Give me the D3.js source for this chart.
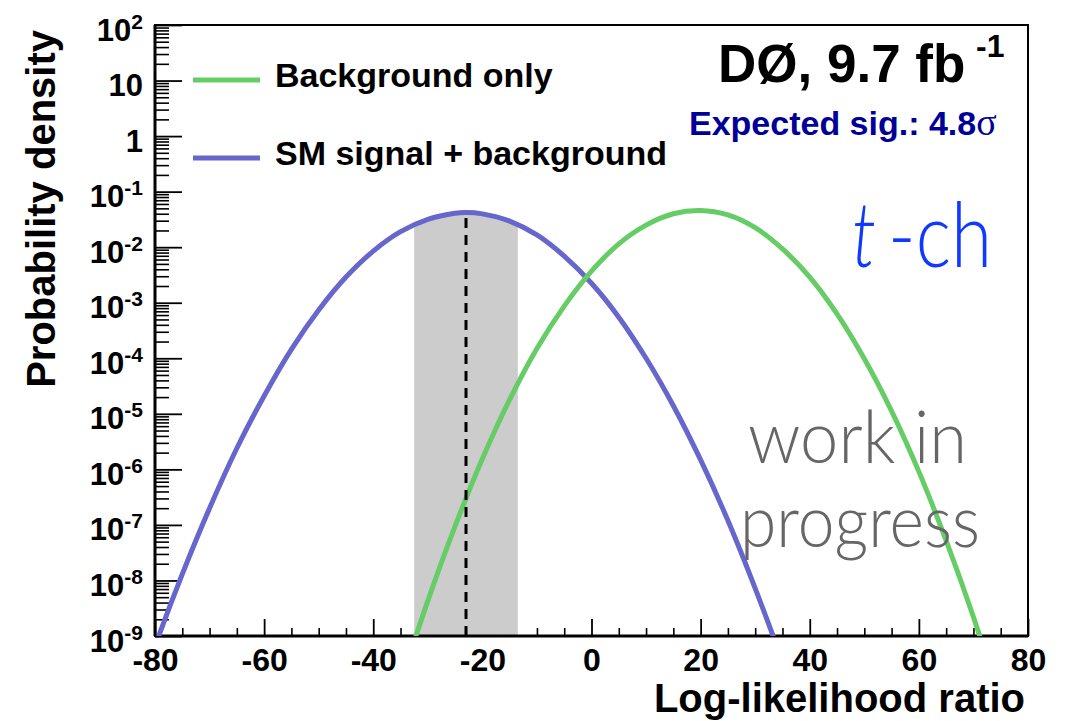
<!DOCTYPE html>
<html>
<head>
<meta charset="utf-8">
<script src="https://cdn.jsdelivr.net/npm/d3@7"></script>
<style>
  html, body { margin: 0; padding: 0; background: #fff; }
  svg { display: block; }
  .tk text { font-family: "Liberation Sans", Arial, Helvetica, sans-serif; font-weight: bold; fill: #000; }
</style>
</head>
<body>
<svg id="chart" width="1065" height="721"></svg>
<script>
// Log-likelihood ratio grid and probability densities for the two hypotheses
const llrBkg = [-35, -30, -25, -20, -15, -10, -5, 0, 5, 10, 15, 20, 25, 30, 35, 40, 45, 50, 55, 60, 65, 70, 75];
const densBkg = [1.4e-10, 4.3e-9, 9.5e-8, 1.55e-6, 1.8e-5, 1.5e-4, 8.7e-4, 3.7e-3, 1.15e-2, 2.5e-2, 4.0e-2, 4.57e-2,
                 3.8e-2, 2.24e-2, 9.3e-3, 2.9e-3, 6.3e-4, 9.8e-5, 1.12e-5, 9.1e-7, 5.2e-8, 2.2e-9, 6.6e-11];

const llrSB = [-85, -80, -75, -70, -65, -60, -55, -50, -45, -40, -35, -30, -25, -23, -20, -15, -10, -5, 0, 5, 10, 15, 20, 25, 30, 35, 40];
const densSB = [2.3e-11, 6.5e-10, 1.3e-8, 2.0e-7, 2.4e-6, 2.1e-5, 1.45e-4, 7.4e-4, 2.9e-3, 8.5e-3, 1.9e-2, 3.16e-2, 4.07e-2, 4.2e-2,
                3.98e-2, 2.95e-2, 1.66e-2, 6.9e-3, 2.24e-3, 5.5e-4, 1.0e-4, 1.4e-5, 1.48e-6, 1.2e-7, 7.2e-9, 3.4e-10, 1.2e-11];

// Expected (median) s+b outcome and its ±1 sigma band
const sbMedian = -23;
const sbBand = [-32.5, -13.5];

// Axis ticks
const xMajor = [-80, -60, -40, -20, 0, 20, 40, 60, 80];
const xMinor = d3.range(-80, 80.1, 5).filter(v => !xMajor.includes(v));
const yExponents = [2, 1, 0, -1, -2, -3, -4, -5, -6, -7, -8, -9];

const legendItems = [
  { label: "Background only", color: "#66cc66" },
  { label: "SM signal + background", color: "#6666cc" }
];

const svg = d3.select("#chart");
const L = 155, R = 1028, T = 25, B = 636;

const x = d3.scaleLinear().domain([-80, 80]).range([L, R]);
const y = d3.scaleLog().domain([1e-9, 1e2]).range([B, T]);

const bkg = llrBkg.map((v, i) => [v, densBkg[i]]);
const sb = llrSB.map((v, i) => [v, densSB[i]]);

const defs = svg.append("defs");
defs.append("clipPath").attr("id", "frameClip")
  .append("rect").attr("x", L).attr("y", T).attr("width", R - L).attr("height", B - T);
defs.append("clipPath").attr("id", "bandClip")
  .append("rect").attr("x", x(sbBand[0])).attr("y", T)
  .attr("width", x(sbBand[1]) - x(sbBand[0])).attr("height", B - T);

// Minor ticks for the y axis: 2..9 times each decade
const yMinor = [];
for (let e = -9; e < 2; e++) for (let m = 2; m <= 9; m++) yMinor.push(m * Math.pow(10, e));
const yMajor = yExponents.map(e => Math.pow(10, e));

// y axis ticks (pointing into the frame)
svg.append("g").attr("class", "tk").attr("transform", `translate(${L},0)`)
  .call(d3.axisLeft(y).tickValues(yMinor).tickSize(-14).tickSizeOuter(0).tickFormat(""))
  .call(g => g.select(".domain").remove())
  .call(g => g.selectAll("line").attr("stroke", "#000").attr("stroke-width", 1.6));

const yAx = svg.append("g").attr("class", "tk").attr("transform", `translate(${L},0)`)
  .call(d3.axisLeft(y).tickValues(yMajor).tickSize(-27).tickSizeOuter(0).tickPadding(12).tickFormat(""))
  .call(g => g.select(".domain").remove())
  .call(g => g.selectAll("line").attr("stroke", "#000").attr("stroke-width", 1.8));

yAx.selectAll(".tick text").each(function(d) {
  const e = Math.round(Math.log10(d));
  const t = d3.select(this).attr("dy", null).attr("y", 15).attr("text-anchor", "end").style("font-size", "31px");
  if (e === 0) { t.text("1"); }
  else if (e === 1) { t.text("10"); }
  else {
    t.append("tspan").text("10");
    t.append("tspan").attr("dy", -12).style("font-size", "21px").text(String(e));
  }
});

// x axis ticks
svg.append("g").attr("class", "tk").attr("transform", `translate(0,${B})`)
  .call(d3.axisBottom(x).tickValues(xMinor).tickSize(-8).tickSizeOuter(0).tickFormat(""))
  .call(g => g.select(".domain").remove())
  .call(g => g.selectAll("line").attr("stroke", "#000").attr("stroke-width", 1.6));

svg.append("g").attr("class", "tk").attr("transform", `translate(0,${B})`)
  .call(d3.axisBottom(x).tickValues(xMajor).tickSize(-17).tickSizeOuter(0).tickFormat(d => d))
  .call(g => g.select(".domain").remove())
  .call(g => g.selectAll("line").attr("stroke", "#000").attr("stroke-width", 1.8))
  .call(g => g.selectAll("text").attr("dy", null).attr("y", 35).style("font-size", "32px"));

// ±1 sigma band under the s+b curve
const area = d3.area()
  .x(d => x(d[0])).y0(B).y1(d => y(d[1]))
  .curve(d3.curveCatmullRom.alpha(0.5));
svg.append("g").attr("clip-path", "url(#bandClip)")
  .append("path").datum(sb).attr("d", area).attr("fill", "#cccccc");

// Frame
svg.append("rect").attr("x", L).attr("y", T).attr("width", R - L).attr("height", B - T)
  .attr("fill", "none").attr("stroke", "#000").attr("stroke-width", 2);
svg.append("line").attr("x1", L).attr("x2", R).attr("y1", B).attr("y2", B)
  .attr("stroke", "#000").attr("stroke-width", 3);
svg.append("line").attr("x1", L).attr("x2", L).attr("y1", T).attr("y2", B)
  .attr("stroke", "#000").attr("stroke-width", 3);

// Curves
const line = d3.line().x(d => x(d[0])).y(d => y(d[1])).curve(d3.curveCatmullRom.alpha(0.5));
const curves = svg.append("g").attr("clip-path", "url(#frameClip)");
curves.append("path").datum(sb).attr("d", line)
  .attr("fill", "none").attr("stroke", legendItems[1].color).attr("stroke-width", 5);
curves.append("path").datum(bkg).attr("d", line)
  .attr("fill", "none").attr("stroke", legendItems[0].color).attr("stroke-width", 5);

// Median of the s+b expectation
const medIdx = llrSB.indexOf(sbMedian);
svg.append("line")
  .attr("x1", x(sbMedian)).attr("x2", x(sbMedian))
  .attr("y1", B).attr("y2", y(densSB[medIdx]) + 2)
  .attr("stroke", "#000").attr("stroke-width", 3).attr("stroke-dasharray", "10,7");

// Legend
const leg = svg.append("g");
legendItems.forEach((it, i) => {
  const yy = 80 + i * 78;
  leg.append("line").attr("x1", 193).attr("x2", 260).attr("y1", yy).attr("y2", yy)
    .attr("stroke", it.color).attr("stroke-width", 5);
  leg.append("text").attr("x", 275).attr("y", yy + 7)
    .style("font-family", "'Liberation Sans', Arial, sans-serif").style("font-weight", "bold")
    .style("font-size", "34px").attr("fill", "#000").text(it.label);
});

// Experiment and luminosity
svg.append("text").attr("x", 718).attr("y", 82)
  .style("font-family", "'Liberation Sans', Arial, sans-serif").style("font-weight", "bold")
  .style("font-size", "53px").text("DØ, 9.7 fb");
svg.append("text").attr("x", 976).attr("y", 57)
  .style("font-family", "'Liberation Sans', Arial, sans-serif").style("font-weight", "bold")
  .style("font-size", "32px").text("-1");

const sig = svg.append("text").attr("x", 689).attr("y", 135)
  .style("font-family", "'Liberation Sans', Arial, sans-serif").style("font-weight", "bold")
  .style("font-size", "34px").attr("fill", "#000099");
sig.append("tspan").text("Expected sig.: 4.8");
sig.append("tspan").style("font-family", "'Liberation Serif', 'Times New Roman', serif")
  .style("font-weight", "normal").style("font-size", "38px").text("σ");

// Channel tag: italic t followed by "-ch"
const chStyle = s => s.style("font-family", "Lato, 'Open Sans', sans-serif").style("font-weight", 300)
  .style("font-size", "90px").attr("fill", "#1038ff");
svg.append("text").attr("x", 852).attr("y", 267)
  .attr("textLength", 24).attr("lengthAdjust", "spacingAndGlyphs")
  .call(chStyle).style("font-style", "italic").text("t");
svg.append("text").attr("x", 888).attr("y", 267)
  .attr("textLength", 104).attr("lengthAdjust", "spacingAndGlyphs")
  .call(chStyle).text("-ch");

// Status note
const note = svg.append("g").attr("fill", "#666666")
  .style("font-family", "Lato, 'Open Sans', sans-serif").style("font-weight", 300).style("font-size", "72px");
note.append("text").attr("x", 748).attr("y", 463).attr("textLength", 219).attr("lengthAdjust", "spacingAndGlyphs").text("work in");
note.append("text").attr("x", 740).attr("y", 547).attr("textLength", 240).attr("lengthAdjust", "spacingAndGlyphs").text("progress");

// Axis titles
const titleStyle = s => s.style("font-family", "'Liberation Sans', Arial, sans-serif")
  .style("font-weight", "bold").style("font-size", "40px").attr("fill", "#000");
svg.append("text").attr("x", 1025).attr("y", 712).attr("text-anchor", "end")
  .call(titleStyle).text("Log-likelihood ratio");
svg.append("text").attr("transform", "translate(55,30) rotate(-90)").attr("text-anchor", "end")
  .call(titleStyle).text("Probability density");
</script>
</body>
</html>
